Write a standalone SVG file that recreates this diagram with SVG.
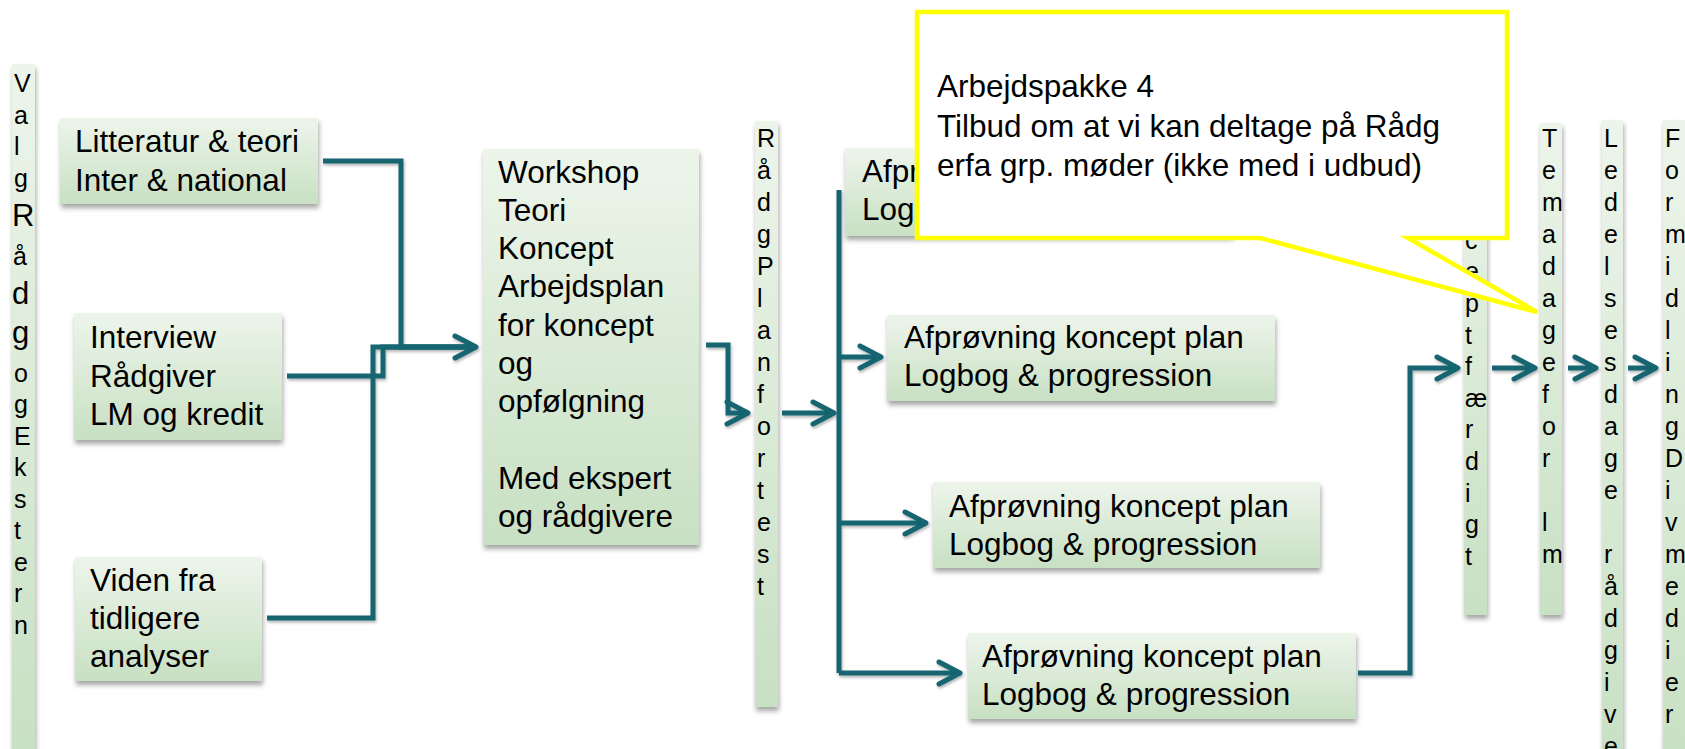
<svg xmlns="http://www.w3.org/2000/svg" width="1685" height="749" viewBox="0 0 1685 749">
<defs>
<linearGradient id="gf" x1="0" y1="0" x2="0" y2="1">
<stop offset="0" stop-color="#EDF5EB"/>
<stop offset="1" stop-color="#C8E0C3"/>
</linearGradient>
<filter id="sh" x="-10%" y="-10%" width="130%" height="130%">
<feDropShadow dx="1" dy="4" stdDeviation="2.5" flood-color="#000" flood-opacity="0.35"/>
</filter>
<filter id="lsh" x="-10%" y="-10%" width="130%" height="130%">
<feDropShadow dx="1" dy="2" stdDeviation="1.5" flood-color="#000" flood-opacity="0.3"/>
</filter>
<marker id="arr" markerUnits="userSpaceOnUse" markerWidth="34" markerHeight="34" viewBox="-28 -17 34 34" refX="0" refY="0" orient="auto" overflow="visible">
<path d="M-21,-11 L0,0 L-21,11" fill="none" stroke="#126570" stroke-width="5" stroke-linecap="round" stroke-linejoin="round"/>
</marker>
<style>
.box{fill:url(#gf);filter:url(#sh);}
.t{font-family:"Liberation Sans",Arial,sans-serif;font-size:31.5px;fill:#000;}
.v{font-family:"Liberation Sans",Arial,sans-serif;font-size:25px;fill:#000;}
.vb{font-size:31px;}
.c{fill:none;stroke:#126570;stroke-width:5;stroke-linejoin:miter;}
.co{fill:#fff;stroke:#FFFF00;stroke-width:4.5;stroke-linejoin:miter;}
</style>
</defs>
<rect width="1685" height="749" fill="#fff"/>

<g id="valg-raadg-ekstern">
<rect class="box" x="12" y="64" width="23" height="690"/>
<text class="v" x="14" y="92"><tspan x="14" y="92">V</tspan><tspan x="14" y="123.5">a</tspan><tspan x="14" y="155">l</tspan><tspan x="14" y="186.5">g</tspan><tspan x="12" y="225.5" class="vb">R</tspan><tspan x="13" y="264.5">å</tspan><tspan x="12" y="303.5" class="vb">d</tspan><tspan x="12" y="342.5" class="vb">g</tspan><tspan x="14" y="381.5">o</tspan><tspan x="14" y="413">g</tspan><tspan x="14" y="444.5">E</tspan><tspan x="14" y="476">k</tspan><tspan x="14" y="507.5">s</tspan><tspan x="14" y="539">t</tspan><tspan x="14" y="570.5">e</tspan><tspan x="14" y="602">r</tspan><tspan x="14" y="633.5">n</tspan></text>
</g>

<g id="litteratur">
<rect class="box" x="60" y="118" width="258" height="86"/>
<text class="t" x="75" y="152"><tspan x="75" y="152">Litteratur &amp; teori</tspan><tspan x="75" y="191">Inter &amp; national</tspan></text>
</g>

<g id="interview">
<rect class="box" x="74" y="313" width="208" height="127"/>
<text class="t" x="90" y="348"><tspan x="90" y="348">Interview</tspan><tspan x="90" y="387">Rådgiver</tspan><tspan x="90" y="425">LM og kredit</tspan></text>
</g>

<g id="viden">
<rect class="box" x="75" y="557" width="187" height="124"/>
<text class="t" x="90" y="591"><tspan x="90" y="591">Viden fra</tspan><tspan x="90" y="629">tidligere</tspan><tspan x="90" y="667">analyser</tspan></text>
</g>

<g id="workshop">
<rect class="box" x="483" y="149" width="216" height="396"/>
<text class="t" x="498" y="183"><tspan x="498" y="183">Workshop</tspan><tspan x="498" y="221">Teori</tspan><tspan x="498" y="259">Koncept</tspan><tspan x="498" y="297">Arbejdsplan</tspan><tspan x="498" y="336">for koncept</tspan><tspan x="498" y="374">og</tspan><tspan x="498" y="412">opfølgning</tspan><tspan x="498" y="489">Med ekspert</tspan><tspan x="498" y="527">og rådgivere</tspan></text>
</g>

<g id="raadg-plan-fortest">
<rect class="box" x="755" y="121" width="23" height="586"/>
<text class="v" x="757" y="147"><tspan x="757" y="147">R</tspan><tspan x="757" dy="32">å</tspan><tspan x="757" dy="32">d</tspan><tspan x="757" dy="32">g</tspan><tspan x="757" dy="32">P</tspan><tspan x="757" dy="32">l</tspan><tspan x="757" dy="32">a</tspan><tspan x="757" dy="32">n</tspan><tspan x="757" dy="32">f</tspan><tspan x="757" dy="32">o</tspan><tspan x="757" dy="32">r</tspan><tspan x="757" dy="32">t</tspan><tspan x="757" dy="32">e</tspan><tspan x="757" dy="32">s</tspan><tspan x="757" dy="32">t</tspan></text>
</g>

<g id="afproevning-1">
<rect class="box" x="845" y="148" width="387" height="88"/>
<text class="t" x="862" y="182"><tspan x="862" y="182">Afpr</tspan><tspan x="862" y="220">Log</tspan></text>
</g>

<g id="afproevning-2">
<rect class="box" x="887" y="315" width="388" height="86"/>
<text class="t" x="904" y="348"><tspan x="904" y="348">Afprøvning koncept plan</tspan><tspan x="904" y="386">Logbog &amp; progression</tspan></text>
</g>

<g id="afproevning-3">
<rect class="box" x="933" y="482" width="387" height="86"/>
<text class="t" x="949" y="517"><tspan x="949" y="517">Afprøvning koncept plan</tspan><tspan x="949" y="555">Logbog &amp; progression</tspan></text>
</g>

<g id="afproevning-4">
<rect class="box" x="968" y="633" width="388" height="86"/>
<text class="t" x="982" y="667"><tspan x="982" y="667">Afprøvning koncept plan</tspan><tspan x="982" y="705">Logbog &amp; progression</tspan></text>
</g>

<g id="koncept-faerdigt">
<rect class="box" x="1464" y="121" width="23" height="494"/>
<text class="v" x="1465" y="154"><tspan x="1465" y="154">K</tspan><tspan x="1465" dy="31.6">o</tspan><tspan x="1465" dy="31.6">n</tspan><tspan x="1465" dy="31.6">c</tspan><tspan x="1465" dy="31.6">e</tspan><tspan x="1465" dy="31.6">p</tspan><tspan x="1465" dy="31.6">t</tspan><tspan x="1465" dy="31.6">f</tspan><tspan x="1465" dy="31.6">æ</tspan><tspan x="1465" dy="31.6">r</tspan><tspan x="1465" dy="31.6">d</tspan><tspan x="1465" dy="31.6">i</tspan><tspan x="1465" dy="31.6">g</tspan><tspan x="1465" dy="31.6">t</tspan></text>
</g>

<g id="temadage">
<rect class="box" x="1540" y="123" width="22" height="492"/>
<text class="v" x="1542" y="147"><tspan x="1542" y="147">T</tspan><tspan x="1542" dy="32">e</tspan><tspan x="1542" dy="32">m</tspan><tspan x="1542" dy="32">a</tspan><tspan x="1542" dy="32">d</tspan><tspan x="1542" dy="32">a</tspan><tspan x="1542" dy="32">g</tspan><tspan x="1542" dy="32">e</tspan><tspan x="1542" dy="32">f</tspan><tspan x="1542" dy="32">o</tspan><tspan x="1542" dy="32">r</tspan><tspan x="1542" dy="64">l</tspan><tspan x="1542" dy="32">m</tspan></text>
</g>

<g id="ledelsesdage">
<rect class="box" x="1602" y="120" width="21" height="640"/>
<text class="v" x="1604" y="147"><tspan x="1604" y="147">L</tspan><tspan x="1604" dy="32">e</tspan><tspan x="1604" dy="32">d</tspan><tspan x="1604" dy="32">e</tspan><tspan x="1604" dy="32">l</tspan><tspan x="1604" dy="32">s</tspan><tspan x="1604" dy="32">e</tspan><tspan x="1604" dy="32">s</tspan><tspan x="1604" dy="32">d</tspan><tspan x="1604" dy="32">a</tspan><tspan x="1604" dy="32">g</tspan><tspan x="1604" dy="32">e</tspan><tspan x="1604" dy="64">r</tspan><tspan x="1604" dy="32">å</tspan><tspan x="1604" dy="32">d</tspan><tspan x="1604" dy="32">g</tspan><tspan x="1604" dy="32">i</tspan><tspan x="1604" dy="32">v</tspan><tspan x="1604" dy="32">e</tspan></text>
</g>

<g id="formidling">
<rect class="box" x="1663" y="120" width="22" height="640"/>
<text class="v" x="1665" y="147"><tspan x="1665" y="147">F</tspan><tspan x="1665" dy="32">o</tspan><tspan x="1665" dy="32">r</tspan><tspan x="1665" dy="32">m</tspan><tspan x="1665" dy="32">i</tspan><tspan x="1665" dy="32">d</tspan><tspan x="1665" dy="32">l</tspan><tspan x="1665" dy="32">i</tspan><tspan x="1665" dy="32">n</tspan><tspan x="1665" dy="32">g</tspan><tspan x="1665" dy="32">D</tspan><tspan x="1665" dy="32">i</tspan><tspan x="1665" dy="32">v</tspan><tspan x="1665" dy="32">m</tspan><tspan x="1665" dy="32">e</tspan><tspan x="1665" dy="32">d</tspan><tspan x="1665" dy="32">i</tspan><tspan x="1665" dy="32">e</tspan><tspan x="1665" dy="32">r</tspan></text>
</g>

<g id="connectors" filter="url(#lsh)">
<path class="c" d="M323,161 H401 V347 H476" marker-end="url(#arr)"/>
<path class="c" d="M287,376 H383 V347 H476"/>
<path class="c" d="M267,618 H373 V347 H476"/>
<path class="c" d="M706,345 H728 V413 H748" marker-end="url(#arr)"/>
<path class="c" d="M782,413 H834" marker-end="url(#arr)"/>
<path class="c" d="M839,190 V673"/>
<path class="c" d="M839,357 H881" marker-end="url(#arr)"/>
<path class="c" d="M839,523 H926" marker-end="url(#arr)"/>
<path class="c" d="M839,673 H960" marker-end="url(#arr)"/>
<path class="c" d="M1358,673 H1410 V368 H1458" marker-end="url(#arr)"/>
<path class="c" d="M1492,368 H1535" marker-end="url(#arr)"/>
<path class="c" d="M1568,368 H1596" marker-end="url(#arr)"/>
<path class="c" d="M1628,368 H1656" marker-end="url(#arr)"/>
</g>

<g id="callout">
<path class="co" d="M917,12 H1507 V238 H1408 L1537,312 L1260,238 H917 Z"/>
<text class="t" x="937" y="97"><tspan x="937" y="97">Arbejdspakke 4</tspan><tspan x="937" y="137">Tilbud om at vi kan deltage på Rådg</tspan><tspan x="937" y="176">erfa grp. møder (ikke med i udbud)</tspan></text>
</g>
</svg>
